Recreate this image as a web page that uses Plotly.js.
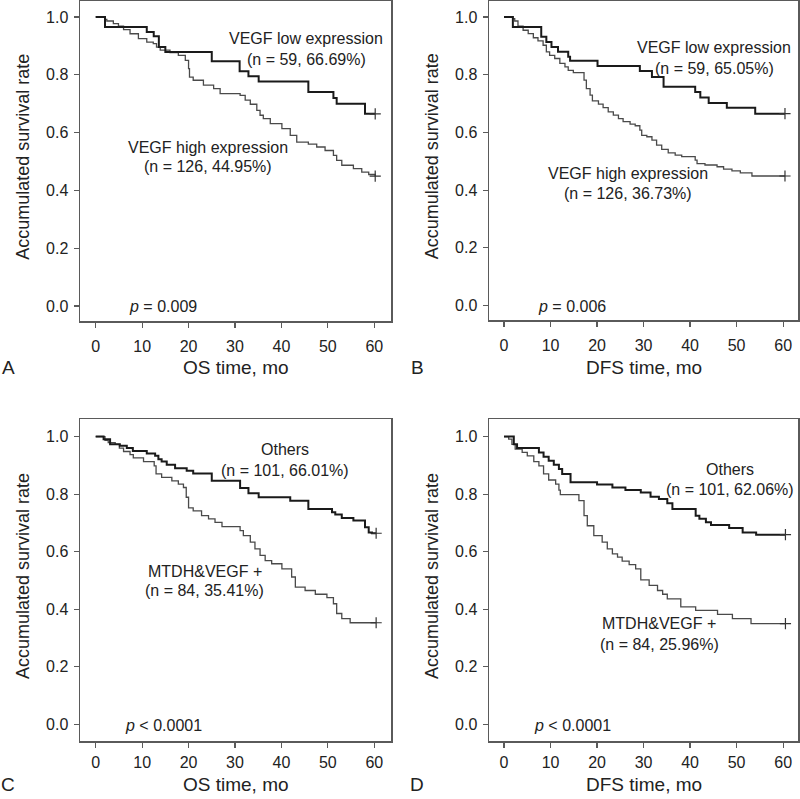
<!DOCTYPE html>
<html>
<head>
<meta charset="utf-8">
<script src="https://cdn.plot.ly/plotly-3.0.1.min.js"></script>
<style>html,body{margin:0;padding:0;background:#fff;}#chart{width:800px;height:799px;}</style>
</head>
<body>
<div id="chart"></div>
<script>
// ---- Panel A: OS, VEGF ----
var aLowT  = [0, 2.0, 11.0, 12.5, 13.6, 15.0, 25.0, 31.0, 32.9, 35.1, 45.8, 51.2, 51.9, 58.0, 60.2];
var aLowS  = [1.0, 0.965, 0.948, 0.933, 0.896, 0.879, 0.847, 0.812, 0.795, 0.777, 0.740, 0.720, 0.700, 0.665, 0.665];
var aHighT = [0, 2.0, 2.4, 3.8, 4.9, 6.0, 7.4, 9.2, 11.0, 12.4, 13.1, 13.9, 16.0, 17.8, 19.3, 20.0, 20.2, 21.0, 23.2, 25.4, 26.8, 31.1, 32.2, 33.3, 34.7, 35.4, 36.1, 37.6, 40.1, 41.9, 43.3, 45.8, 47.6, 49.4, 51.2, 51.9, 53.0, 55.5, 57.3, 58.8, 60.2];
var aHighS = [1.0, 0.992, 0.986, 0.977, 0.968, 0.956, 0.942, 0.925, 0.913, 0.908, 0.896, 0.885, 0.877, 0.867, 0.850, 0.821, 0.792, 0.781, 0.764, 0.752, 0.735, 0.729, 0.712, 0.698, 0.677, 0.660, 0.648, 0.631, 0.614, 0.590, 0.567, 0.560, 0.550, 0.538, 0.521, 0.504, 0.487, 0.475, 0.463, 0.455, 0.449];

// ---- Panel B: DFS, VEGF ----
var bLowT  = [0, 1.9, 8.0, 9.1, 10.2, 11.6, 13.8, 14.2, 20.1, 29.2, 31.8, 34.3, 41.1, 42.2, 44.0, 47.9, 54.0, 60.4];
var bLowS  = [1.0, 0.965, 0.931, 0.913, 0.896, 0.879, 0.862, 0.848, 0.830, 0.813, 0.792, 0.758, 0.740, 0.721, 0.702, 0.685, 0.665, 0.665];
var bHighT = [0, 1.9, 2.3, 3.0, 4.1, 5.2, 6.3, 7.3, 8.4, 9.1, 9.8, 10.9, 12.0, 13.1, 13.8, 14.9, 17.2, 17.7, 18.5, 19.0, 20.3, 21.3, 22.4, 23.5, 24.6, 25.6, 27.1, 28.2, 29.2, 29.6, 30.7, 31.8, 32.8, 33.9, 35.3, 36.8, 38.2, 41.1, 41.5, 43.2, 45.8, 47.2, 49.0, 50.8, 53.3, 60.4];
var bHighS = [1.0, 0.994, 0.986, 0.968, 0.954, 0.942, 0.928, 0.917, 0.902, 0.879, 0.867, 0.856, 0.839, 0.827, 0.815, 0.807, 0.781, 0.752, 0.729, 0.709, 0.698, 0.686, 0.671, 0.660, 0.648, 0.637, 0.629, 0.623, 0.608, 0.590, 0.585, 0.573, 0.556, 0.541, 0.529, 0.521, 0.516, 0.504, 0.492, 0.487, 0.481, 0.473, 0.467, 0.460, 0.449, 0.449];

// ---- Panel C: OS, MTDH&VEGF ----
var cOthT = [0, 1.7, 3.1, 5.2, 6.7, 8.0, 11.0, 12.8, 13.5, 14.2, 15.3, 17.1, 19.6, 21.0, 25.0, 31.1, 32.9, 35.1, 41.9, 45.8, 50.9, 51.6, 53.0, 55.5, 58.0, 58.8, 59.5, 60.4];
var cOthS = [1.0, 0.991, 0.973, 0.968, 0.960, 0.950, 0.941, 0.933, 0.921, 0.913, 0.902, 0.890, 0.881, 0.872, 0.846, 0.821, 0.803, 0.789, 0.777, 0.748, 0.737, 0.729, 0.717, 0.708, 0.685, 0.667, 0.664, 0.664];
var cPosT = [0, 2.0, 2.7, 4.2, 5.1, 6.0, 7.4, 8.1, 10.3, 12.6, 13.0, 14.2, 16.4, 17.8, 18.9, 19.5, 20.0, 21.0, 22.8, 24.3, 25.7, 27.2, 31.1, 31.8, 33.3, 34.3, 35.4, 36.5, 37.9, 40.1, 42.2, 43.0, 45.1, 47.3, 49.8, 51.2, 51.9, 53.0, 54.8, 60.4];
var cPosS = [1.0, 0.987, 0.979, 0.973, 0.960, 0.948, 0.937, 0.926, 0.913, 0.898, 0.870, 0.858, 0.846, 0.835, 0.823, 0.789, 0.752, 0.742, 0.725, 0.714, 0.702, 0.687, 0.673, 0.656, 0.633, 0.610, 0.587, 0.569, 0.558, 0.540, 0.512, 0.477, 0.465, 0.452, 0.440, 0.419, 0.385, 0.367, 0.353, 0.353];

// ---- Panel D: DFS, MTDH&VEGF ----
var dOthT = [0, 2.1, 2.8, 7.5, 8.5, 9.6, 10.7, 11.8, 12.5, 14.3, 20.0, 23.3, 26.1, 29.4, 31.5, 33.3, 35.1, 36.2, 41.2, 42.0, 43.4, 44.5, 48.4, 51.3, 54.2, 60.5];
var dOthS = [1.0, 0.973, 0.960, 0.945, 0.930, 0.916, 0.902, 0.887, 0.870, 0.841, 0.833, 0.823, 0.814, 0.806, 0.791, 0.783, 0.768, 0.748, 0.725, 0.714, 0.702, 0.693, 0.682, 0.667, 0.659, 0.659];
var dPosT = [0, 1.0, 1.7, 2.4, 3.9, 5.0, 6.4, 7.5, 8.5, 9.6, 11.1, 11.8, 12.1, 16.1, 17.2, 17.9, 19.3, 21.1, 22.2, 23.3, 24.4, 25.4, 26.9, 28.3, 29.4, 31.2, 33.0, 34.1, 35.1, 38.0, 41.2, 45.9, 49.1, 53.1, 60.5];
var dPosS = [1.0, 0.991, 0.973, 0.956, 0.945, 0.933, 0.913, 0.898, 0.870, 0.849, 0.835, 0.814, 0.798, 0.777, 0.725, 0.690, 0.656, 0.633, 0.610, 0.592, 0.581, 0.567, 0.555, 0.540, 0.502, 0.483, 0.465, 0.452, 0.436, 0.408, 0.396, 0.382, 0.367, 0.350, 0.350];

var xTicks = [0, 10, 20, 30, 40, 50, 60];
var yTicks = [0.0, 0.2, 0.4, 0.6, 0.8, 1.0];
var yTitle = "Accumulated survival rate";
var xTitles = ["OS time, mo", "DFS time, mo", "OS time, mo", "DFS time, mo"];
var panelLetters = ["A", "B", "C", "D"];
var pTexts = ["<i>p</i> = 0.009", "<i>p</i> = 0.006", "<i>p</i> &lt; 0.0001", "<i>p</i> &lt; 0.0001"];
var lowLabels = [["VEGF low expression", "(n = 59, 66.69%)"], ["VEGF low expression", "(n = 59, 65.05%)"], ["Others", "(n = 101, 66.01%)"], ["Others", "(n = 101, 62.06%)"]];
var highLabels = [["VEGF high expression", "(n = 126, 44.95%)"], ["VEGF high expression", "(n = 126, 36.73%)"], ["MTDH&amp;VEGF +", "(n = 84, 35.41%)"], ["MTDH&amp;VEGF +", "(n = 84, 25.96%)"]];

var W = 800, H = 799;
var FONT = "Liberation Sans, Arial, Helvetica, sans-serif";
var TXT = "#222";
// panel boxes in pixels: [left, right, top, bottom]
var boxes = [[80, 391, 0.5, 321], [489, 798, 0.5, 320], [80, 391, 419, 741], [489, 798, 419, 741]];
var xRanges = [[-3.38, 63.6], [-3.23, 63.2], [-3.38, 63.6], [-3.23, 63.2]];
var yRanges = [[-0.052, 1.057], [-0.050, 1.057], [-0.058, 1.061], [-0.058, 1.061]];
var titleGap = [47, 47, 43, 43];
var tickStandoff = [5, 5, 1, 1];

var series = [[aLowT, aLowS, aHighT, aHighS], [bLowT, bLowS, bHighT, bHighS], [cOthT, cOthS, cPosT, cPosS], [dOthT, dOthS, dPosT, dPosS]];

var traces = [];
var layout = {
  width: W, height: H,
  margin: {l: 0, r: 0, t: 0, b: 0},
  paper_bgcolor: "#fff", plot_bgcolor: "#fff",
  showlegend: false,
  font: {family: FONT, color: TXT, size: 16},
  annotations: []
};

// annotation positions (pixels) per panel
var lowPos = [[306, 39, 60], [714, 47, 68], [285, 449, 470], [730, 469, 489]];
var highPos = [[208, 147, 167], [628, 173, 193], [205, 571, 590], [659, 623, 644]];
var pPos = [[163, 306], [572, 306], [163, 725], [572, 725]];

function px2x(p) { return p / W; }
function px2y(p) { return 1 - p / H; }

for (var i = 0; i < 4; i++) {
  var sfx = i === 0 ? "" : String(i + 1);
  var xa = "x" + sfx, ya = "y" + sfx;
  var b = boxes[i];
  var s = series[i];
  traces.push({x: s[2], y: s[3], xaxis: xa, yaxis: ya, mode: "lines", line: {shape: "hv", color: "#4a4a4a", width: 1.3}, hoverinfo: "skip"});
  traces.push({x: s[0], y: s[1], xaxis: xa, yaxis: ya, mode: "lines", line: {shape: "hv", color: "#1a1a1a", width: 2}, hoverinfo: "skip"});
  // censoring mark at the end of each curve
  traces.push({x: [s[0][s[0].length - 1], s[2][s[2].length - 1]], y: [s[1][s[1].length - 1], s[3][s[3].length - 1]],
    xaxis: xa, yaxis: ya, mode: "markers", marker: {symbol: "cross-thin", size: 8, line: {color: "#333", width: 1.2}}, hoverinfo: "skip"});

  var axCommon = {showgrid: false, zeroline: false, showline: true, linecolor: "#5a5a5a", linewidth: 1.5, mirror: true,
    ticks: "outside", ticklen: 5, tickwidth: 1.2, tickcolor: "#5a5a5a", tickfont: {family: FONT, size: 16, color: TXT}, fixedrange: true};
  layout["xaxis" + sfx] = Object.assign({}, axCommon, {domain: [px2x(b[0]), px2x(b[1])], range: xRanges[i], anchor: ya,
    tickmode: "array", tickvals: xTicks, ticktext: xTicks.map(String), ticklabelstandoff: tickStandoff[i]});
  layout["yaxis" + sfx] = Object.assign({}, axCommon, {domain: [px2y(b[3]), px2y(b[2])], range: yRanges[i], anchor: xa,
    tickmode: "array", tickvals: yTicks, ticktext: yTicks.map(function (v) { return v.toFixed(1); }), ticklabelstandoff: 2});

  var cx = (b[0] + b[1]) / 2;
  var titleY = b[3] + titleGap[i];
  layout.annotations.push({xref: "paper", yref: "paper", x: px2x(cx), y: px2y(titleY), text: xTitles[i], showarrow: false,
    xanchor: "center", yanchor: "middle", font: {family: FONT, size: 19, color: TXT}});
  layout.annotations.push({xref: "paper", yref: "paper", x: px2x(b[0] - 72), y: px2y(titleY), text: panelLetters[i], showarrow: false,
    xanchor: "center", yanchor: "middle", font: {family: FONT, size: 19, color: TXT}});
  layout.annotations.push({xref: "paper", yref: "paper", x: px2x(b[0] - 57), y: px2y((b[2] + b[3]) / 2 - 4), text: yTitle, showarrow: false,
    textangle: -90, xanchor: "center", yanchor: "middle", font: {family: FONT, size: 18, color: TXT}});
  layout.annotations.push({xref: "paper", yref: "paper", x: px2x(pPos[i][0]), y: px2y(pPos[i][1]), text: pTexts[i], showarrow: false,
    xanchor: "center", yanchor: "middle", font: {family: FONT, size: 16, color: TXT}});
  layout.annotations.push({xref: "paper", yref: "paper", x: px2x(lowPos[i][0]), y: px2y(lowPos[i][1]), text: lowLabels[i][0], showarrow: false,
    xanchor: "center", yanchor: "middle", font: {family: FONT, size: 16, color: TXT}});
  layout.annotations.push({xref: "paper", yref: "paper", x: px2x(lowPos[i][0]), y: px2y(lowPos[i][2]), text: lowLabels[i][1], showarrow: false,
    xanchor: "center", yanchor: "middle", font: {family: FONT, size: 16, color: TXT}});
  layout.annotations.push({xref: "paper", yref: "paper", x: px2x(highPos[i][0]), y: px2y(highPos[i][1]), text: highLabels[i][0], showarrow: false,
    xanchor: "center", yanchor: "middle", font: {family: FONT, size: 16, color: TXT}});
  layout.annotations.push({xref: "paper", yref: "paper", x: px2x(highPos[i][0]), y: px2y(highPos[i][2]), text: highLabels[i][1], showarrow: false,
    xanchor: "center", yanchor: "middle", font: {family: FONT, size: 16, color: TXT}});
}

Plotly.newPlot("chart", traces, layout, {staticPlot: true, displayModeBar: false});
</script>
</body>
</html>
